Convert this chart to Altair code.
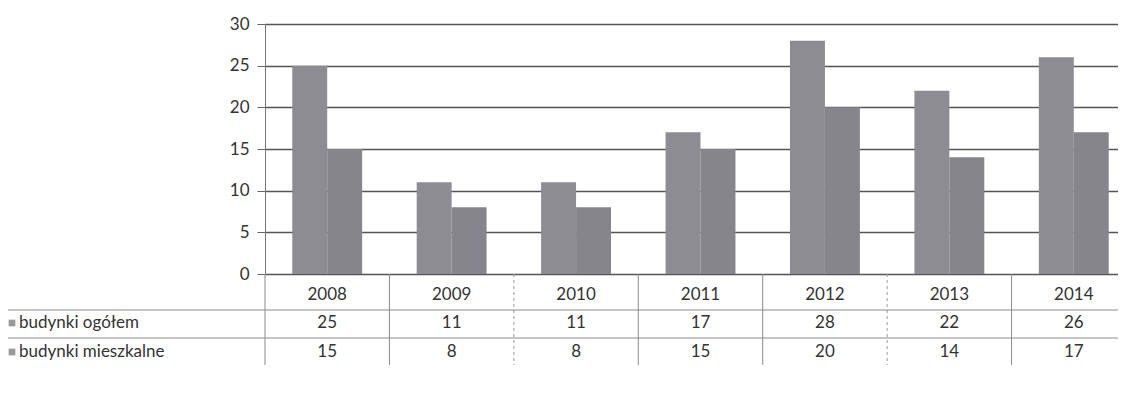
import altair as alt
import pandas as pd

years = ["2008", "2009", "2010", "2011", "2012", "2013", "2014"]
ogolem = [25, 11, 11, 17, 28, 22, 26]
mieszkalne = [15, 8, 8, 15, 20, 14, 17]
series_names = ["budynki ogółem", "budynki mieszkalne"]
y_ticks = [0, 5, 10, 15, 20, 25, 30]

W, H = 853, 250
RANGE_W = 871
FONT = "Lato"
TXT = "#333333"
FS = 17

rows = []
for i, y in enumerate(years):
    rows.append({"year": y, "series": series_names[0], "value": ogolem[i]})
    rows.append({"year": y, "series": series_names[1], "value": mieszkalne[i]})
df = pd.DataFrame(rows)
ydf = pd.DataFrame({"year": years})

xscale = alt.Scale(domain=years, range=[0, RANGE_W], paddingInner=0, paddingOuter=0)

bars = alt.Chart(df).mark_bar().encode(
    x=alt.X("year:N", scale=xscale, axis=None),
    xOffset=alt.XOffset("series:N", sort=series_names,
                        scale=alt.Scale(paddingInner=0, paddingOuter=0.78)),
    y=alt.Y("value:Q", scale=alt.Scale(domain=[0, 30], nice=False),
            axis=alt.Axis(values=y_ticks, grid=True, gridColor="#555555", gridWidth=1.3,
                          domain=True, domainColor="#777", tickColor="#666", tickSize=8,
                          labelFont=FONT, labelFontSize=FS, labelColor=TXT, labelPadding=8,
                          title=None)),
    color=alt.Color("series:N", sort=series_names,
                    scale=alt.Scale(domain=series_names, range=["#8d8c92", "#86858b"]),
                    legend=None),
)

year_text = alt.Chart(ydf).mark_text(font=FONT, fontSize=FS, color=TXT, baseline="middle").encode(
    x=alt.X("year:N", scale=xscale), y=alt.value(271), text="year:N")

def row_text(series, yv):
    return alt.Chart(df[df.series == series]).mark_text(
        font=FONT, fontSize=FS, color=TXT, baseline="middle").encode(
        x=alt.X("year:N", scale=xscale), y=alt.value(yv), text="value:Q")

row1 = row_text(series_names[0], 299)
row2 = row_text(series_names[1], 328)

lab_df = pd.DataFrame({"label": series_names, "ypos": [299, 328]})
row_labels = alt.Chart(lab_df).mark_text(font=FONT, fontSize=FS, color=TXT, align="left",
                                         baseline="middle").encode(
    x=alt.value(-246), y=alt.Y("ypos:Q", scale=None), text="label:N")
row_squares = alt.Chart(lab_df).mark_square(size=45, color="#9a9a9a", opacity=1).encode(
    x=alt.value(-253), y=alt.Y("ypos:Q", scale=None))

hl_df = pd.DataFrame({"ypos": [286, 314]})
hlines = alt.Chart(hl_df).mark_rule(color="#8a8a8a", strokeWidth=1).encode(
    x=alt.value(-257), x2=alt.value(RANGE_W), y=alt.Y("ypos:Q", scale=None))

solid_div = ["2008", "2009", "2011", "2012", "2014"]
dashed_div = ["2010", "2013"]
vsolid = alt.Chart(pd.DataFrame({"year": solid_div})).mark_rule(color="#8a8a8a", strokeWidth=1).encode(
    x=alt.X("year:N", scale=xscale, bandPosition=0), y=alt.value(H), y2=alt.value(H + 91))
vdash = alt.Chart(pd.DataFrame({"year": dashed_div})).mark_rule(color="#9a9a9a", strokeWidth=1,
                                                               strokeDash=[3, 3]).encode(
    x=alt.X("year:N", scale=xscale, bandPosition=0), y=alt.value(H), y2=alt.value(H + 91))

chart = alt.layer(bars, hlines, vsolid, vdash, year_text, row1, row2, row_squares, row_labels).properties(
    width=W, height=H,
    autosize=alt.AutoSizeParams(type="none"),
    padding={"left": 257, "top": 16, "right": 0, "bottom": 100},
).configure_view(stroke=None).configure(background="white")

chart.save("out.html", embed_options={"renderer": "svg", "actions": False})
